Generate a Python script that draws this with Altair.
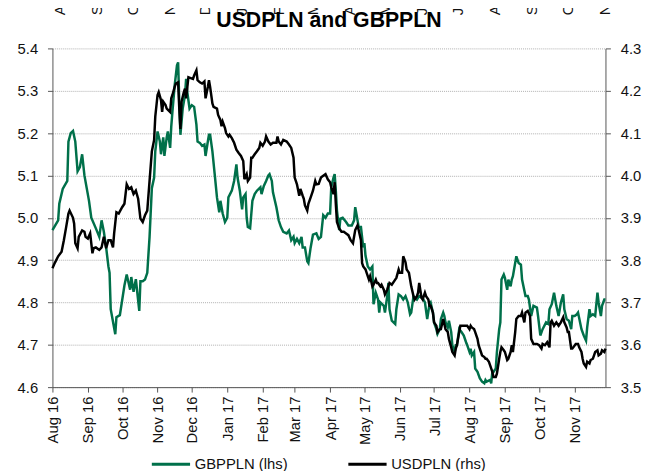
import altair as alt
import pandas as pd

START = pd.Timestamp("2016-08-01")

# GBPPLN (left axis): days since 1 Aug 2016 and values
gbp_day = [0, 5, 6, 9, 13, 14, 16, 18, 20, 22, 24, 26, 28, 30, 32, 34, 38, 41, 43, 45,
           47, 49, 50, 51, 55, 56, 59, 63, 65, 68, 69, 71, 73, 76, 77, 79, 81, 83, 85, 87,
           89, 90, 92, 94, 95, 97, 98, 100, 101, 103, 104, 105, 107, 109, 110, 111, 112, 114, 116, 117,
           118, 120, 122, 124, 126, 127, 129, 131, 133, 134, 136, 137, 138, 140, 142, 144, 146, 147, 149, 151,
           153, 154, 157, 159, 161, 162, 164, 166, 167, 169, 170, 171, 173, 175, 177, 179, 182, 183, 185, 187,
           189, 190, 192, 193, 196, 197, 198, 200, 202, 205, 207, 209, 211, 212, 214, 216, 218, 219, 221, 223,
           224, 226, 228, 231, 233, 235, 237, 239, 241, 243, 244, 246, 247, 248, 249, 251, 252, 254, 257, 259,
           262, 264, 265, 267, 268, 270, 272, 273, 274, 276, 278, 280, 281, 283, 285, 286, 287, 290, 291, 293,
           294, 295, 297, 300, 301, 303, 305, 307, 309, 311, 313, 314, 316, 319, 321, 324, 326, 328, 330, 331,
           333, 334, 336, 337, 339, 340, 342, 343, 344, 346, 347, 349, 350, 352, 353, 354, 356, 358, 360, 362,
           363, 365, 366, 367, 369, 370, 372, 374, 376, 378, 379, 380, 383, 384, 385, 386, 388, 389, 391, 392,
           393, 395, 396, 398, 399, 401, 402, 403, 406, 408, 410, 411, 414, 416, 417, 419, 421, 424, 425, 427,
           429, 432, 434, 435, 437, 439, 441, 443, 445, 447, 448, 450, 452, 454, 455, 457, 459, 460, 463, 465,
           467, 468, 470, 471, 473, 475, 477, 478, 480, 481, 483, 484]
gbp_val = [4.971, 4.994, 5.033, 5.068, 5.087, 5.180, 5.200, 5.205, 5.180, 5.110, 5.120, 5.150, 5.100, 5.070, 5.040, 5.000, 4.975, 4.955, 4.994, 4.967,
           4.930, 4.885, 4.870, 4.784, 4.725, 4.765, 4.770, 4.840, 4.866, 4.830, 4.860, 4.825, 4.855, 4.780, 4.850, 4.850, 4.854, 4.870, 4.955, 5.070,
           5.095, 5.157, 5.204, 5.180, 5.150, 5.190, 5.146, 5.190, 5.204, 5.165, 5.216, 5.250, 5.313, 5.360, 5.367, 5.274, 5.196, 5.258, 5.290, 5.328,
           5.297, 5.258, 5.266, 5.262, 5.220, 5.180, 5.177, 5.170, 5.173, 5.146, 5.180, 5.196, 5.196, 5.157, 5.103, 5.048, 5.013, 5.040, 5.010, 4.990,
           5.000, 5.048, 5.064, 5.087, 5.126, 5.095, 5.064, 5.020, 5.048, 5.056, 5.000, 4.978, 4.975, 5.040, 5.056, 5.064, 5.072, 5.056, 5.075, 5.087,
           5.100, 5.103, 5.087, 5.060, 5.025, 5.010, 4.994, 4.978, 4.967, 4.963, 4.970, 4.947, 4.955, 4.940, 4.950, 4.940, 4.955, 4.930, 4.930, 4.897,
           4.893, 4.930, 4.960, 4.963, 4.950, 4.955, 5.006, 5.000, 5.010, 5.010, 5.072, 5.095, 5.103, 5.064, 5.017, 4.971, 4.998, 5.000, 4.990, 4.982,
           4.982, 4.994, 5.025, 4.994, 4.978, 4.978, 4.930, 4.940, 4.910, 4.885, 4.878, 4.885, 4.796, 4.823, 4.807, 4.776, 4.800, 4.792, 4.776, 4.815,
           4.846, 4.784, 4.757, 4.749, 4.784, 4.819, 4.815, 4.807, 4.815, 4.800, 4.772, 4.776, 4.815, 4.807, 4.815, 4.810, 4.800, 4.761, 4.796, 4.800,
           4.776, 4.753, 4.737, 4.726, 4.737, 4.761, 4.776, 4.768, 4.753, 4.741, 4.757, 4.730, 4.699, 4.683, 4.699, 4.699, 4.737, 4.730, 4.722, 4.706,
           4.699, 4.683, 4.691, 4.675, 4.683, 4.644, 4.636, 4.621, 4.613, 4.609, 4.617, 4.613, 4.617, 4.609, 4.636, 4.636, 4.644, 4.683, 4.737, 4.753,
           4.854, 4.866, 4.858, 4.830, 4.854, 4.838, 4.854, 4.862, 4.909, 4.893, 4.889, 4.854, 4.815, 4.815, 4.807, 4.768, 4.792, 4.788, 4.768, 4.722,
           4.737, 4.753, 4.749, 4.784, 4.796, 4.823, 4.792, 4.768, 4.800, 4.819, 4.784, 4.761, 4.757, 4.737, 4.768, 4.768, 4.772, 4.776, 4.737, 4.722,
           4.710, 4.741, 4.784, 4.768, 4.772, 4.768, 4.823, 4.800, 4.768, 4.792, 4.807, 4.807]

# USDPLN (right axis)
usd_day = [0, 2, 5, 8, 10, 12, 14, 15, 18, 19, 20, 22, 23, 26, 28, 29, 31, 33, 35, 36,
           38, 41, 43, 45, 47, 49, 51, 53, 54, 56, 58, 61, 63, 65, 67, 69, 71, 73, 75, 77,
           79, 81, 83, 85, 87, 89, 90, 92, 93, 95, 96, 97, 99, 100, 103, 104, 105, 107, 108, 110,
           111, 112, 113, 115, 116, 117, 119, 121, 123, 124, 126, 127, 129, 131, 133, 134, 136, 137, 138, 140,
           141, 144, 145, 147, 148, 149, 151, 152, 154, 155, 157, 159, 161, 163, 165, 167, 168, 170, 171, 173,
           174, 175, 177, 179, 181, 182, 184, 186, 187, 189, 191, 193, 196, 197, 198, 200, 202, 205, 207, 209,
           211, 212, 213, 214, 216, 217, 219, 220, 221, 223, 224, 226, 228, 230, 231, 233, 235, 237, 239, 241,
           243, 244, 246, 247, 248, 249, 251, 253, 255, 257, 259, 261, 263, 265, 267, 268, 270, 271, 272, 274,
           275, 277, 278, 280, 281, 283, 284, 285, 287, 288, 290, 291, 293, 294, 295, 297, 300, 301, 303, 304,
           306, 307, 309, 310, 311, 312, 314, 316, 317, 319, 320, 321, 323, 324, 326, 327, 329, 330, 331, 333,
           334, 336, 337, 339, 340, 342, 343, 344, 346, 347, 349, 350, 352, 353, 354, 356, 357, 359, 363, 365,
           366, 367, 369, 370, 372, 373, 375, 376, 378, 379, 380, 382, 383, 385, 386, 388, 389, 391, 392, 393,
           395, 396, 398, 399, 401, 402, 403, 405, 406, 408, 410, 411, 413, 414, 416, 418, 419, 421, 424, 426,
           428, 429, 431, 433, 435, 436, 437, 439, 441, 443, 445, 447, 448, 450, 451, 452, 454, 455, 458, 460,
           461, 463, 464, 465, 467, 468, 470, 471, 473, 474, 475, 477, 478, 480, 481, 483, 484]
usd_val = [3.781, 3.793, 3.809, 3.820, 3.847, 3.878, 3.910, 3.917, 3.900, 3.886, 3.840, 3.828, 3.855, 3.870, 3.867, 3.855, 3.851, 3.863, 3.816, 3.828,
           3.830, 3.824, 3.830, 3.855, 3.828, 3.847, 3.847, 3.830, 3.863, 3.913, 3.910, 3.925, 3.933, 3.979, 3.968, 3.972, 3.956, 3.964, 3.945, 3.898,
           3.890, 3.906, 3.917, 3.987, 4.057, 4.084, 4.139, 4.190, 4.197, 4.178, 4.150, 4.174, 4.166, 4.158, 4.150, 4.182, 4.190, 4.209, 4.217, 4.220,
           4.158, 4.110, 4.174, 4.197, 4.205, 4.182, 4.232, 4.230, 4.228, 4.236, 4.248, 4.225, 4.220, 4.217, 4.222, 4.182, 4.209, 4.225, 4.209, 4.170,
           4.162, 4.158, 4.143, 4.131, 4.116, 4.127, 4.112, 4.100, 4.092, 4.096, 4.088, 4.077, 4.061, 4.053, 4.046, 4.034, 3.991, 4.003, 3.987, 3.995,
           4.042, 4.042, 4.050, 4.057, 4.065, 4.077, 4.070, 4.080, 4.092, 4.080, 4.073, 4.077, 4.077, 4.092, 4.080, 4.073, 4.084, 4.080, 4.073, 4.065,
           4.042, 3.995, 3.987, 3.979, 3.952, 3.968, 3.952, 3.945, 3.929, 3.917, 3.933, 3.948, 3.964, 3.987, 3.979, 3.980, 3.995, 3.999, 4.003, 3.991,
           3.984, 3.972, 3.956, 3.984, 3.933, 3.890, 3.875, 3.867, 3.867, 3.863, 3.859, 3.847, 3.840, 3.871, 3.882, 3.871, 3.847, 3.793, 3.785, 3.778,
           3.770, 3.754, 3.762, 3.738, 3.742, 3.754, 3.746, 3.746, 3.738, 3.742, 3.730, 3.719, 3.730, 3.738, 3.746, 3.742, 3.754, 3.758, 3.778, 3.770,
           3.770, 3.809, 3.795, 3.778, 3.774, 3.770, 3.738, 3.715, 3.707, 3.715, 3.723, 3.746, 3.711, 3.707, 3.723, 3.715, 3.707, 3.692, 3.692, 3.676,
           3.653, 3.645, 3.630, 3.637, 3.637, 3.661, 3.649, 3.637, 3.630, 3.614, 3.594, 3.583, 3.575, 3.591, 3.599, 3.630, 3.645, 3.645, 3.645, 3.637,
           3.645, 3.641, 3.637, 3.630, 3.614, 3.599, 3.583, 3.575, 3.571, 3.567, 3.567, 3.560, 3.552, 3.536, 3.524, 3.524, 3.532, 3.567, 3.583, 3.594,
           3.587, 3.583, 3.564, 3.567, 3.583, 3.599, 3.583, 3.630, 3.661, 3.668, 3.668, 3.676, 3.653, 3.676, 3.680, 3.668, 3.614, 3.602, 3.602, 3.599,
           3.591, 3.602, 3.599, 3.606, 3.594, 3.653, 3.657, 3.645, 3.653, 3.645, 3.653, 3.665, 3.653, 3.641, 3.630, 3.630, 3.591, 3.591, 3.602, 3.602,
           3.594, 3.583, 3.567, 3.556, 3.548, 3.560, 3.556, 3.564, 3.567, 3.575, 3.583, 3.587, 3.575, 3.579, 3.587, 3.583, 3.591]

series_names = ["GBPPLN (lhs)", "USDPLN (rhs)"]
series_colors = ["#00704A", "#000000"]
left_ticks = [4.6, 4.7, 4.8, 4.9, 5.0, 5.1, 5.2, 5.3, 5.4]
right_ticks = [3.5, 3.6, 3.7, 3.8, 3.9, 4.0, 4.1, 4.2, 4.3]
month_ticks = [(2016, m) for m in range(8, 13)] + [(2017, m) for m in range(1, 12)]

FONT = "Liberation Sans"

gbp = pd.DataFrame({"date": START + pd.to_timedelta(gbp_day, unit="D"),
                    "value": gbp_val, "series": series_names[0]})
usd = pd.DataFrame({"date": START + pd.to_timedelta(usd_day, unit="D"),
                    "value": usd_val, "series": series_names[1]})
tops = pd.DataFrame({"date": [pd.Timestamp(year=y, month=m, day=1) for y, m in month_ticks]})

tick_dt = [alt.DateTime(year=y, month=m, date=1) for y, m in month_ticks]
x_scale = alt.Scale(domain=[alt.DateTime(year=2016, month=8, date=1),
                            alt.DateTime(year=2017, month=11, date=28)])

color = alt.Color("series:N",
                  scale=alt.Scale(domain=series_names, range=series_colors),
                  legend=alt.Legend(title=None, orient="none", legendX=99, legendY=400,
                                    direction="horizontal", symbolType="stroke",
                                    symbolSize=1500, symbolStrokeWidth=3,
                                    labelFont=FONT, labelFontSize=15, labelColor="#111",
                                    labelOffset=3, columnPadding=54, labelLimit=300))

x_axis = alt.Axis(values=tick_dt, format="%b %y", labelAngle=270, labelFont=FONT,
                  labelFontSize=15, labelColor="#111", tickSize=5, tickColor="#555",
                  domainColor="#555", labelPadding=4, grid=False, title=None)

green = alt.Chart(gbp).mark_line(strokeWidth=2.5).encode(
    x=alt.X("date:T", scale=x_scale, axis=x_axis),
    y=alt.Y("value:Q", scale=alt.Scale(domain=[4.6, 5.4], nice=False, zero=False),
            axis=alt.Axis(values=left_ticks, format=".1f", orient="left", title=None,
                          labelFont=FONT, labelFontSize=15, labelColor="#111",
                          tickSize=5, tickColor="#555", domainColor="#555", labelPadding=10,
                          grid=True, gridColor="#b0b0b0", gridDash=[1, 1], gridWidth=1)),
    color=color,
)

black = alt.Chart(usd).mark_line(strokeWidth=2.5).encode(
    x=alt.X("date:T", scale=x_scale, axis=None),
    y=alt.Y("value:Q", scale=alt.Scale(domain=[3.5, 4.3], nice=False, zero=False),
            axis=alt.Axis(values=right_ticks, format=".1f", orient="right", title=None,
                          labelFont=FONT, labelFontSize=15, labelColor="#111",
                          tickSize=5, tickColor="#555", domainColor="#555", labelPadding=10,
                          grid=False)),
    color=color,
)

top_axis = alt.Chart(tops).mark_point(opacity=0).encode(
    x=alt.X("date:T",
            scale=alt.Scale(domain=[alt.DateTime(year=2016, month=7, date=26),
                                    alt.DateTime(year=2017, month=11, date=2)]),
            axis=alt.Axis(orient="top", values=tick_dt, format="%b", labelAngle=270,
                          labelFont=FONT, labelFontSize=15, labelColor="#111",
                          domain=False, ticks=False, tickSize=0, offset=32, labelPadding=2,
                          grid=False, title=None)),
)

chart = alt.layer(green, black, top_axis).resolve_scale(
    y="independent", x="independent"
).properties(
    width=560, height=343,
    padding={"left": 45, "top": 38, "right": 37, "bottom": 82},
    autosize="none",
    title=alt.TitleParams("USDPLN and GBPPLN", font=FONT, fontSize=21.5, fontWeight="bold",
                          color="#000", anchor="middle", dy=49),
).configure_view(stroke=None)

chart.save("out.html", embed_options={"renderer": "svg", "actions": False})
